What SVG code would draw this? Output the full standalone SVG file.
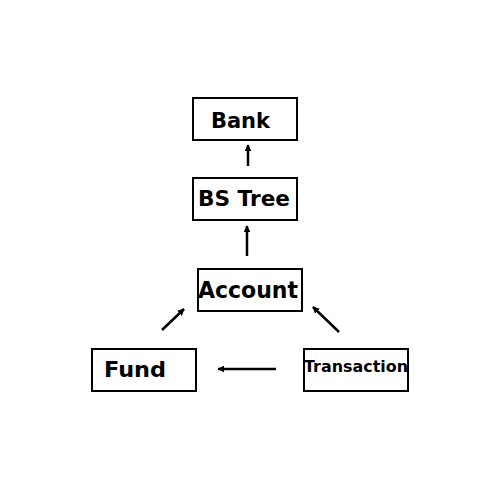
<svg xmlns="http://www.w3.org/2000/svg" width="500" height="500" viewBox="0 0 500 500">
<style>
.box{fill:#fff;stroke:#000;stroke-width:2}
.t{font-family:"DejaVu Sans","Noto Sans",sans-serif;font-weight:700;fill:#000}
.c{stroke:#000;stroke-width:2.5;fill:none;marker-end:url(#ah)}
</style>
<defs>
<marker id="ah" viewBox="0 0 10 10" refX="9" refY="5" markerWidth="2.8" markerHeight="2.8" orient="auto" markerUnits="strokeWidth">
<path d="M0,0 L10,5 L0,10 Z" fill="#000"/>
</marker>
</defs>
<rect width="500" height="500" fill="#fff"/>
<g id="bank"><rect class="box" x="193" y="98" width="104" height="42"/><text class="t" x="211" y="128" font-size="22" textLength="59" lengthAdjust="spacingAndGlyphs">Bank</text></g>
<g id="bstree"><rect class="box" x="193" y="178" width="104" height="42"/><text class="t" x="198" y="206" font-size="22" textLength="92" lengthAdjust="spacingAndGlyphs">BS Tree</text></g>
<g id="account"><rect class="box" x="198" y="269" width="104" height="42"/><text class="t" x="198" y="298" font-size="23" textLength="100" lengthAdjust="spacingAndGlyphs">Account</text></g>
<g id="fund"><rect class="box" x="92" y="349" width="104" height="42"/><text class="t" x="104" y="377" font-size="22" textLength="62" lengthAdjust="spacingAndGlyphs">Fund</text></g>
<g id="transaction"><rect class="box" x="304" y="349" width="104" height="42"/><text class="t" x="304" y="372" font-size="16" textLength="104" lengthAdjust="spacingAndGlyphs">Transaction</text></g>
<g id="connectors">
<line class="c" x1="248" y1="166" x2="248" y2="145"/>
<line class="c" x1="247" y1="256" x2="247" y2="226"/>
<line class="c" x1="162" y1="330" x2="184" y2="309"/>
<line class="c" x1="339" y1="332" x2="313" y2="307"/>
<line class="c" x1="276" y1="369" x2="218" y2="369"/>
</g>
</svg>
